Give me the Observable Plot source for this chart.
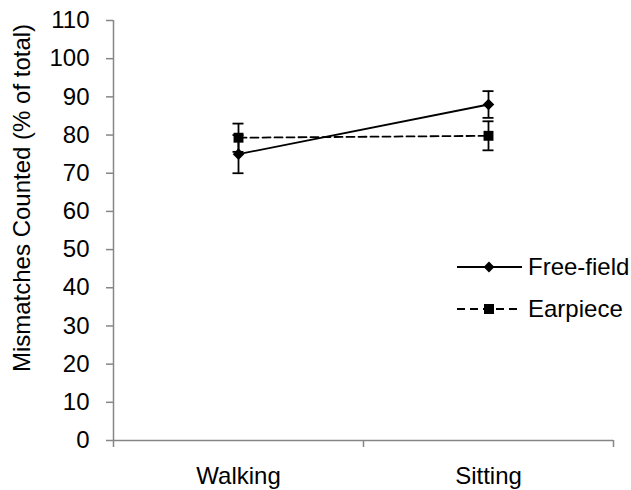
<!DOCTYPE html>
<html><head><meta charset="utf-8">
<script src="https://cdn.jsdelivr.net/npm/d3@7"></script>
<script src="https://cdn.jsdelivr.net/npm/@observablehq/plot@0.6"></script>
<style>
body{margin:0;background:#fff;font-family:"Liberation Sans",Arial,sans-serif;}
#wrap{position:relative;width:631px;height:490px;}
</style></head>
<body><div id="wrap"></div>
<script>
const categories = ["Walking", "Sitting"];
const freeField = [75, 88];
const freeFieldErr = [5, 3.5];
const earpiece = [79.3, 79.8];
const earpieceErr = [3.7, 3.8];
const yTicks = [0,10,20,30,40,50,60,70,80,90,100,110];

const data = [];
categories.forEach((c,i)=>{
  data.push({series:"Free-field", i, cat:c, v:freeField[i], e:freeFieldErr[i]});
  data.push({series:"Earpiece", i, cat:c, v:earpiece[i], e:earpieceErr[i]});
});
const ff = data.filter(d=>d.series==="Free-field");
const ep = data.filter(d=>d.series==="Earpiece");
const pos = d => d.i + 0.5;
const cap = 0.022;
const FONT = '"Liberation Sans", Arial, sans-serif';
const AX = "#868686";

const plot = Plot.plot({
  width: 631, height: 490,
  marginLeft: 113, marginRight: 18, marginTop: 20, marginBottom: 50,
  style: {fontFamily: FONT, fontSize: "24px", color: "#000", background: "#fff"},
  x: {type: "linear", domain: [0, 2], axis: null},
  y: {domain: [0, 110], axis: null},
  marks: [
    // y axis
    Plot.ruleX([0], {stroke: AX, strokeWidth: 1.5}),
    Plot.ruleY(yTicks, {x1: 0, x2: 0, y: d=>d, stroke: AX, strokeWidth: 1.5, insetLeft: -7}),
    Plot.text(yTicks, {x: 0, y: d=>d, text: d=>String(d), textAnchor: "end", dx: -24, fill: "#000", fontSize: 24}),
    // x axis
    Plot.ruleY([0], {stroke: AX, strokeWidth: 1.5}),
    Plot.ruleX([0,1,2], {x: d=>d, y1: 0, y2: 0, stroke: AX, strokeWidth: 1.5, insetBottom: -7}),
    Plot.text(categories, {x: (d,i)=>i+0.5, y: 0, text: d=>d, dy: 36, fill: "#000", fontSize: 24}),
    // error bars
    Plot.ruleX(data, {x: pos, y1: d=>d.v-d.e, y2: d=>d.v+d.e, stroke: "#000", strokeWidth: 1.8}),
    Plot.ruleY(data, {x1: d=>pos(d)-cap, x2: d=>pos(d)+cap, y: d=>d.v+d.e, stroke: "#000", strokeWidth: 1.8}),
    Plot.ruleY(data, {x1: d=>pos(d)-cap, x2: d=>pos(d)+cap, y: d=>d.v-d.e, stroke: "#000", strokeWidth: 1.8}),
    // lines
    Plot.line(ff, {x: pos, y: "v", stroke: "#000", strokeWidth: 1.8}),
    Plot.line(ep, {x: pos, y: "v", stroke: "#000", strokeWidth: 1.8, strokeDasharray: "8,4"}),
    // markers
    Plot.dot(ff, {x: pos, y: "v", symbol: "diamond2", r: 5.2, fill: "#000", stroke: "none"}),
    Plot.dot(ep, {x: pos, y: "v", symbol: "square", r: 5.6, fill: "#000", stroke: "none"}),
  ]
});
document.getElementById("wrap").appendChild(plot);

const svg = d3.select(plot);
svg.append("text")
  .attr("transform", "translate(30,198) rotate(-90)")
  .attr("text-anchor", "middle")
  .attr("font-size", 24)
  .attr("font-family", FONT)
  .attr("fill", "#000")
  .text("Mismatches Counted (% of total)");

const legendItems = [
  {name: "Free-field", dash: null, sym: d3.symbolDiamond2, size: 75},
  {name: "Earpiece", dash: "8,5", sym: d3.symbolSquare, size: 100}
];
const lg = svg.append("g").attr("transform", "translate(457,267)");
legendItems.forEach((it, k) => {
  const g = lg.append("g").attr("transform", `translate(0,${k*42})`);
  g.append("line").attr("x1", 0).attr("x2", 65).attr("y1", 0).attr("y2", 0)
    .attr("stroke", "#000").attr("stroke-width", 1.8).attr("stroke-dasharray", it.dash);
  g.append("path").attr("d", d3.symbol(it.sym, it.size)()).attr("transform", "translate(32,0)").attr("fill", "#000");
  g.append("text").attr("x", 71).attr("y", 0).attr("dy", "0.35em").attr("font-size", 24)
    .attr("text-anchor", "start")
    .attr("font-family", FONT).attr("fill", "#000").text(it.name);
});
</script></body></html>
